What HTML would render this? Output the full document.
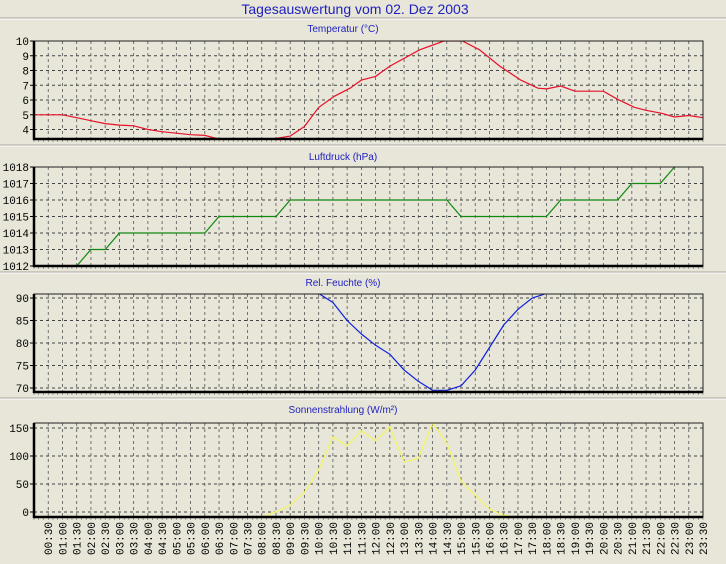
<!DOCTYPE html>
<html><head><meta charset="utf-8"><style>
html,body{margin:0;padding:0;background:#e7e6d8;}
svg{display:block;font-family:"Liberation Sans",sans-serif;}
.tick{font-family:"Liberation Mono",monospace;font-size:11px;fill:#000;}
</style></head><body>
<svg id="c" width="726" height="564" viewBox="0 0 726 564">
<rect width="726" height="564" fill="#e7e6d8"/>
<text x="355" y="14" text-anchor="middle" font-size="14" fill="#2020c0">Tagesauswertung vom 02. Dez 2003</text>
</svg>
<script>
const tempTimes=[0,1,1.5,2,2.5,3,3.5,4,4.5,5,5.5,6,6.5,7,7.5,8,8.36,9,9.5,10,10.55,11.1,11.5,12,12.5,13.55,14.4,15.05,15.65,16.36,17.1,17.7,18,18.5,19,20,20.5,21.1,21.5,22.05,22.5,23,23.5];
const tempValues=[5,5,4.8,4.6,4.4,4.3,4.25,4.0,3.85,3.75,3.65,3.6,3.35,3.2,3.1,3.1,3.35,3.55,4.2,5.5,6.25,6.8,7.35,7.6,8.3,9.4,10,10,9.4,8.3,7.35,6.8,6.75,6.95,6.6,6.6,6.05,5.5,5.3,5.1,4.85,4.95,4.8];
const pressTimes=[1,1.5,2,2.5,3,6,6.5,8.5,9,14.5,15,18,18.5,20.5,21,22,22.5,23];
const pressValues=[1011,1012,1013,1013,1014,1014,1015,1015,1016,1016,1015,1015,1016,1016,1017,1017,1018,1019];
const humTimes=[9.5,10,10.5,11,11.5,12,12.5,13,13.5,14,14.5,15,15.5,16,16.5,17,17.5,18,18.5];
const humValues=[94,91,89,85,82,79.5,77.5,74,71.5,69.5,69.5,70.5,74,79,84,87.5,90,91,93];
const solTimes=[8,8.5,9,9.5,10,10.5,11,11.5,12,12.5,13,13.5,14,14.5,15,15.5,16,16.5,17];
const solValues=[-9,0,12,35,75,134,118,145,127,152,89,96,159,123,55,30,5,-6,-9];
const tempTicks=[4,5,6,7,8,9,10];
const pressTicks=[1012,1013,1014,1015,1016,1017,1018];
const humTicks=[70,75,80,85,90];
const solTicks=[0,50,100,150];

const NS="http://www.w3.org/2000/svg";
const svg=document.getElementById('c');
function el(tag,attrs,parent){const e=document.createElementNS(NS,tag);for(const k in attrs)e.setAttribute(k,attrs[k]);(parent||svg).appendChild(e);return e;}
const X0=34,X1=703;
function xs(t){return X0+t*(X1-X0)/23.5;}

[18,145,272,398].forEach(y=>{
  const a=el('line',{x1:0,x2:726,y1:y,y2:y,stroke:'#a8a79c'});
  
  
  el('line',{x1:0,x2:726,y1:y+1,y2:y+1,stroke:'#ffffff'});
});

function panel(cfg){
  const g=el('g',{});
  
  
  const ys=v=>cfg.y0+(v-cfg.v0)*(cfg.y1-cfg.y0)/(cfg.v1-cfg.v0);
  const t=el('text',{x:343,y:cfg.titleY,'text-anchor':'middle','font-size':10,fill:'#2020c0'},g);
  t.textContent=cfg.title;
  
  
  const cid='clip-'+cfg.name;
  const cp=el('clipPath',{id:cid},g);
  el('rect',{x:X0,y:cfg.top,width:X1-X0,height:cfg.bottom-cfg.top},cp);
  for(let i=1;i<=46;i++){
    const x=xs(i*0.5);
    const l=el('line',{x1:x,x2:x,y1:cfg.top,y2:cfg.bottom,stroke:'#555','stroke-dasharray':'3,3','stroke-width':0.8},g);
    
    
  }
  cfg.ticks.forEach(v=>{
    const y=ys(v);
    const l=el('line',{x1:X0,x2:X1,y1:y,y2:y,stroke:'#444','stroke-dasharray':'3,3','stroke-width':0.9},g);
    
    
    el('line',{x1:X0-4,x2:X0,y1:y,y2:y,stroke:'#000'},g);
    const tx=el('text',{x:X0-5,y:y+4,'text-anchor':'end',class:'tick'},g);
    tx.textContent=v;
    
    
  });
  for(let m=0;m<=141;m++){
    const x=xs(m/6);
    el('line',{x1:x,x2:x,y1:cfg.bottom,y2:cfg.bottom+3,stroke:'#555','stroke-width':0.5},g);
  }
  const pts=cfg.times.map((tt,i)=>xs(tt).toFixed(1)+','+ys(cfg.values[i]).toFixed(1)).join(' ');
  const pl=el('polyline',{points:pts,fill:'none',stroke:cfg.color,'stroke-width':1.2,'clip-path':'url(#'+cid+')'},g);
  
  
  el('rect',{x:X0,y:cfg.top,width:X1-X0,height:cfg.bottom-cfg.top,fill:'none',stroke:'#222','stroke-width':1},g);
  el('line',{x1:X0,x2:X0,y1:cfg.top,y2:cfg.bottom+1,stroke:'#000','stroke-width':2.5},g);
  el('line',{x1:X0-1,x2:X1,y1:cfg.bottom,y2:cfg.bottom,stroke:'#000','stroke-width':2.5},g);
}
panel({name:'temperature-chart',title:'Temperatur (°C)',titleY:32,top:41,bottom:139,v0:10,y0:41,v1:4,y1:129.5,ticks:tempTicks,times:tempTimes,values:tempValues,color:'#e8102a'});
panel({name:'pressure-chart',title:'Luftdruck (hPa)',titleY:160,top:167,bottom:266,v0:1018,y0:167,v1:1012,y1:266,ticks:pressTicks,times:pressTimes,values:pressValues,color:'#108a10'});
panel({name:'humidity-chart',title:'Rel. Feuchte (%)',titleY:286,top:294,bottom:392,v0:90,y0:298,v1:70,y1:388,ticks:humTicks,times:humTimes,values:humValues,color:'#1020e0'});
panel({name:'solar-chart',title:'Sonnenstrahlung (W/m²)',titleY:413,top:423,bottom:517,v0:150,y0:428,v1:0,y1:512,ticks:solTicks,times:solTimes,values:solValues,color:'#f4f460'});

for(let i=1;i<=47;i++){
  const tt=i*0.5;
  const h=Math.floor(tt),m=(tt%1)?'30':'00';
  const lab=(h<10?'0':'')+h+':'+m;
  const x=xs(tt);
  const tx=el('text',{x:0,y:0,class:'tick','font-size':10,'text-anchor':'end',transform:'translate('+(x+4)+',522) rotate(-90)'});
  tx.textContent=lab;
  
  
}
</script>
</body></html>
